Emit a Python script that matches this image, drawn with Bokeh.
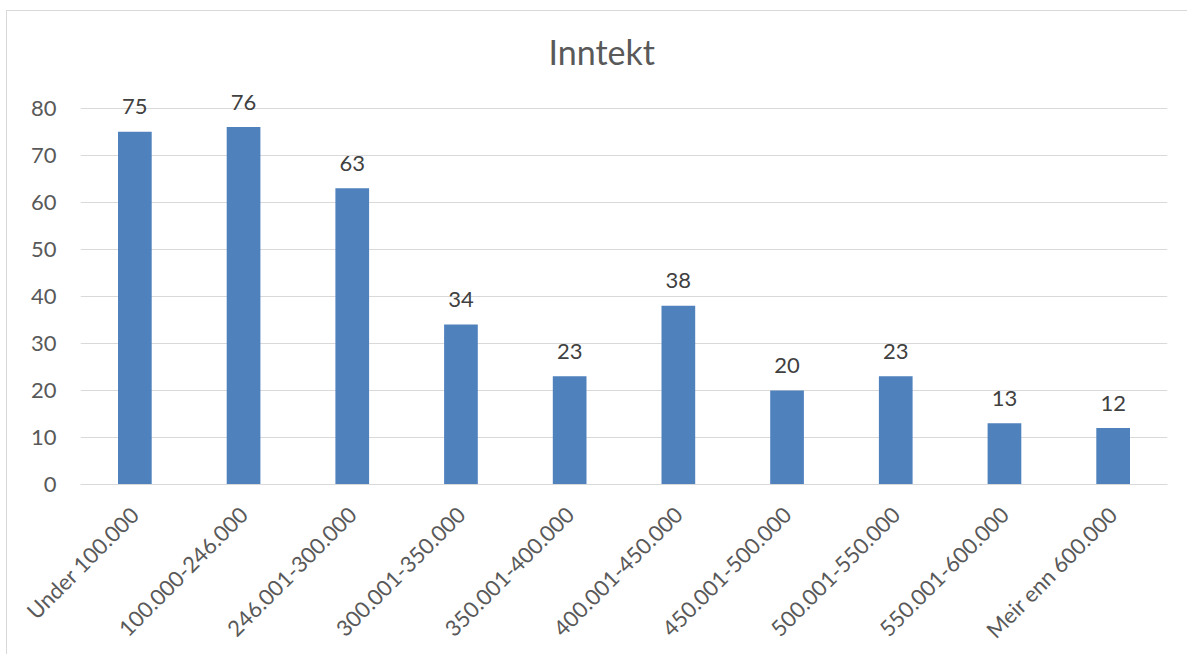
from bokeh.plotting import figure
from bokeh.models import Range1d, ColumnDataSource, FixedTicker, LabelSet
from bokeh.core.properties import value
from bokeh.embed import file_html
from bokeh.resources import INLINE
import math

categories = ["Under 100.000", "100.000-246.000", "246.001-300.000", "300.001-350.000",
              "350.001-400.000", "400.001-450.000", "450.001-500.000", "500.001-550.000",
              "550.001-600.000", "Meir enn 600.000"]
counts = [75, 76, 63, 34, 23, 38, 20, 23, 13, 12]
y_ticks = [0, 10, 20, 30, 40, 50, 60, 70, 80]
title_text = "Inntekt"

FONT = "Lato"
src = ColumnDataSource(dict(cat=categories, val=counts, lab=[str(v) for v in counts]))

# y range extended slightly above 80 so the value labels are not clipped; gridlines stop at 80
p = figure(x_range=categories, y_range=Range1d(0, 84),
           width=1180, height=640, output_backend="svg", toolbar_location=None,
           frame_width=1087, frame_height=395,
           min_border_left=73, min_border_right=20, min_border_top=78, min_border_bottom=167)
p.x_range.range_padding = 0

p.title.text = title_text
p.title.align = "left"
p.title.text_font = FONT
p.title.text_font_size = "34px"
p.title.text_font_style = "normal"
p.title.text_color = "#595959"
p.title.standoff = 35
p.title.offset = 468

p.vbar(x="cat", top="val", width=0.31, source=src, fill_color="#4F81BD", line_color=None)
labels = LabelSet(x="cat", y="val", text="lab", source=src, text_align="center",
                  text_baseline="middle", y_offset=25, text_font=value(FONT),
                  text_font_size="22px", text_color="#404040")
p.add_layout(labels)

p.outline_line_color = None
p.background_fill_color = "white"
p.border_fill_color = "white"

p.xgrid.grid_line_color = None
p.ygrid.grid_line_color = "#d9d9d9"
p.ygrid.grid_line_width = 1
p.yaxis.ticker = FixedTicker(ticks=y_ticks)

p.yaxis.axis_line_color = None
p.yaxis.major_tick_line_color = None
p.yaxis.minor_tick_line_color = None
p.yaxis.major_label_text_font = FONT
p.yaxis.major_label_text_font_size = "22px"
p.yaxis.major_label_text_color = "#595959"
p.yaxis.major_label_standoff = 18

p.xaxis.axis_line_color = "#d9d9d9"
p.xaxis.major_tick_line_color = None
p.xaxis.minor_tick_line_color = None
p.xaxis.major_label_orientation = math.pi / 4
p.xaxis.major_label_text_font = FONT
p.xaxis.major_label_text_font_size = "22px"
p.xaxis.major_label_text_color = "#595959"
p.xaxis.major_label_standoff = 20

p.styles = {"margin-left": "6px", "margin-top": "10px",
            "border-left": "1px solid #d9d9d9", "border-top": "1px solid #d9d9d9"}

open("out.html", "w").write(file_html(p, INLINE))
